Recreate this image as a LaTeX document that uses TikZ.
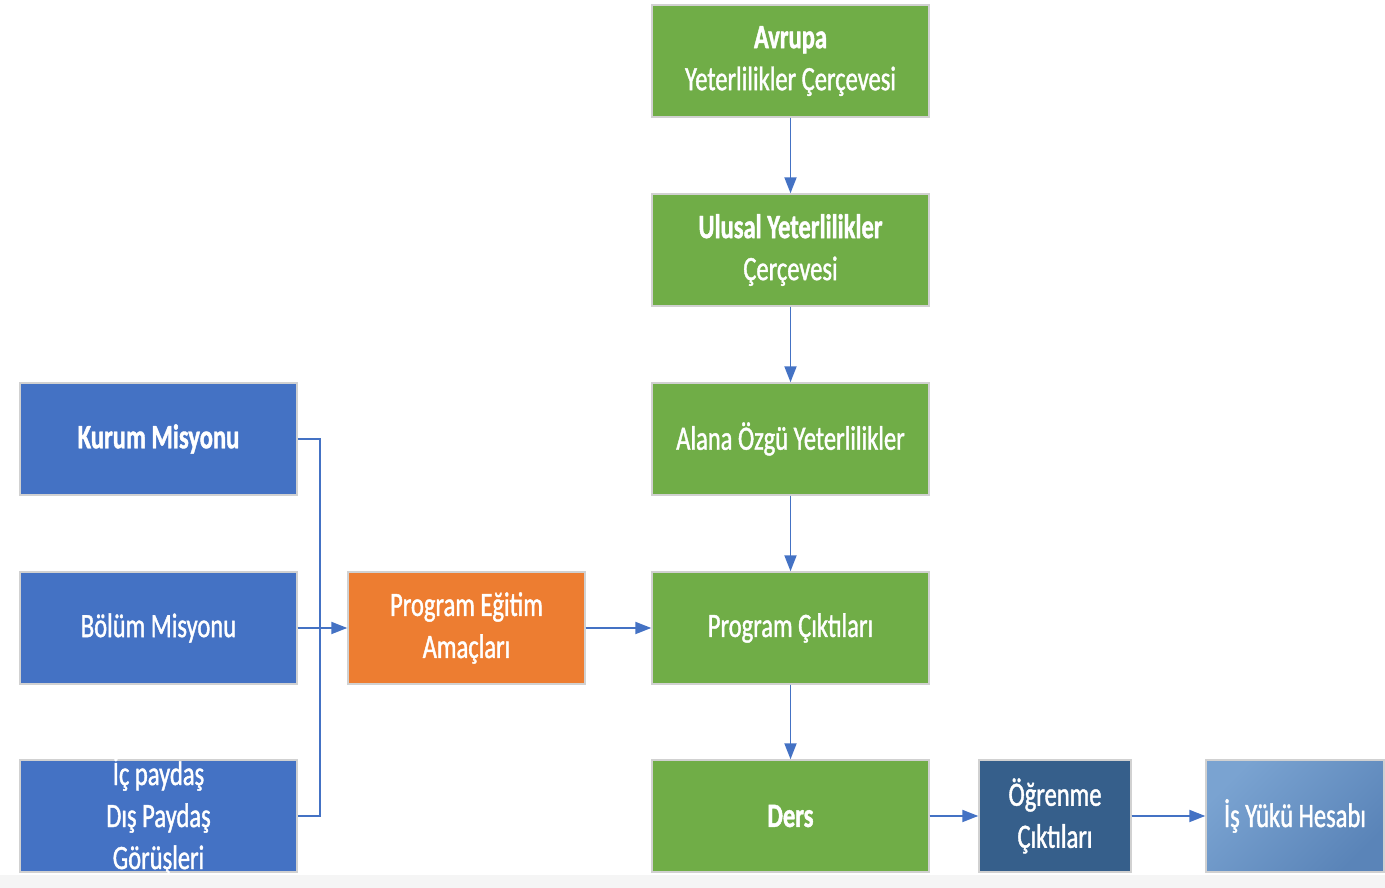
\documentclass[tikz,border=0pt]{standalone}
\usepackage{fontspec}
\setmainfont{Carlito}[FakeStretch=0.72, FakeBold=1.2]
\newfontfamily\heavy{Carlito Bold}[FakeStretch=0.72, FakeBold=1.2]
\usepackage{xcolor}
\usetikzlibrary{arrows.meta,positioning}
\definecolor{boxgreen}{HTML}{70AD47}
\definecolor{boxblue}{HTML}{4472C4}
\definecolor{boxorange}{HTML}{ED7D31}
\definecolor{boxnavy}{HTML}{365F8B}
\definecolor{boxsky}{HTML}{7AA3D1}
\definecolor{boxsteel}{HTML}{5A84B8}
\definecolor{linkblue}{HTML}{4472C4}
\tikzset{
  >={Triangle[length=0.32cm,width=0.24cm]},
  line cap=round,
  line join=round,
  box/.style={draw=black!18, line width=0.8pt, minimum height=2.24cm, align=center,
    text=white, font=\fontsize{19.4}{23.9}\selectfont},
  greenbox/.style={box, fill=boxgreen, minimum width=5.54cm},
  bluebox/.style={box, fill=boxblue, minimum width=5.54cm},
  orangebox/.style={box, fill=boxorange, minimum width=4.74cm},
  link/.style={draw=linkblue, line width=1.1pt},
  arrow/.style={link, ->, fill=linkblue}
}
\begin{document}
\begin{tikzpicture}
	% page frame
	\useasboundingbox (0,0) rectangle (27.7,17.76);
	\fill[black!4] (0,0) rectangle (27.7,0.26);
		
	% green column
	\node[greenbox] (avrupa) at (15.81,16.54) {{\heavy Avrupa}\\Yeterlilikler Çerçevesi};
	\node[greenbox] (ulusal) at (15.81,12.76) {{\heavy Ulusal Yeterlilikler}\\Çerçevesi};
	\node[greenbox] (alana) at (15.81,8.98) {Alana Özgü Yeterlilikler};
	\node[greenbox] (cikti) at (15.81,5.2) {Program Çıktıları};
	\node[greenbox] (ders) at (15.81,1.44) {{\heavy Ders}};
		
	% blue column
	\node[bluebox] (kurum) at (3.17,8.98) {{\heavy Kurum Misyonu}};
	\node[bluebox] (bolum) at (3.17,5.2) {Bölüm Misyonu};
	\node[bluebox, inner ysep=-3pt] (paydas) at (3.17,1.44) {İç paydaş\\Dış Paydaş\\Görüşleri};
		
	% middle and bottom right
	\node[orangebox] (amac) at (9.33,5.2) {Program Eğitim\\Amaçları};
	\node[box, fill=boxnavy, minimum width=3.04cm] (ogrenme) at (21.1,1.44) {Öğrenme\\Çıktıları};
	\node[box, minimum width=3.56cm, shading=axis, top color=boxsky, bottom color=boxsteel, shading angle=45] (isyuku) at (25.9,1.44) {İş Yükü Hesabı};
		
	% connectors
	\coordinate (join) at (6.4,5.2);
	\draw[link] (kurum.east) -| (join) |- (paydas.east);
	\draw[arrow] (bolum.east) -- (amac.west);
	\draw[arrow] (amac.east) -- (cikti.west);
	\draw[arrow] (avrupa) -- (ulusal);
	\draw[arrow] (ulusal) -- (alana);
	\draw[arrow] (alana) -- (cikti);
	\draw[arrow] (cikti) -- (ders);
	\draw[arrow] (ders) -- (ogrenme);
	\draw[arrow] (ogrenme) -- (isyuku);
\end{tikzpicture}
\end{document}
